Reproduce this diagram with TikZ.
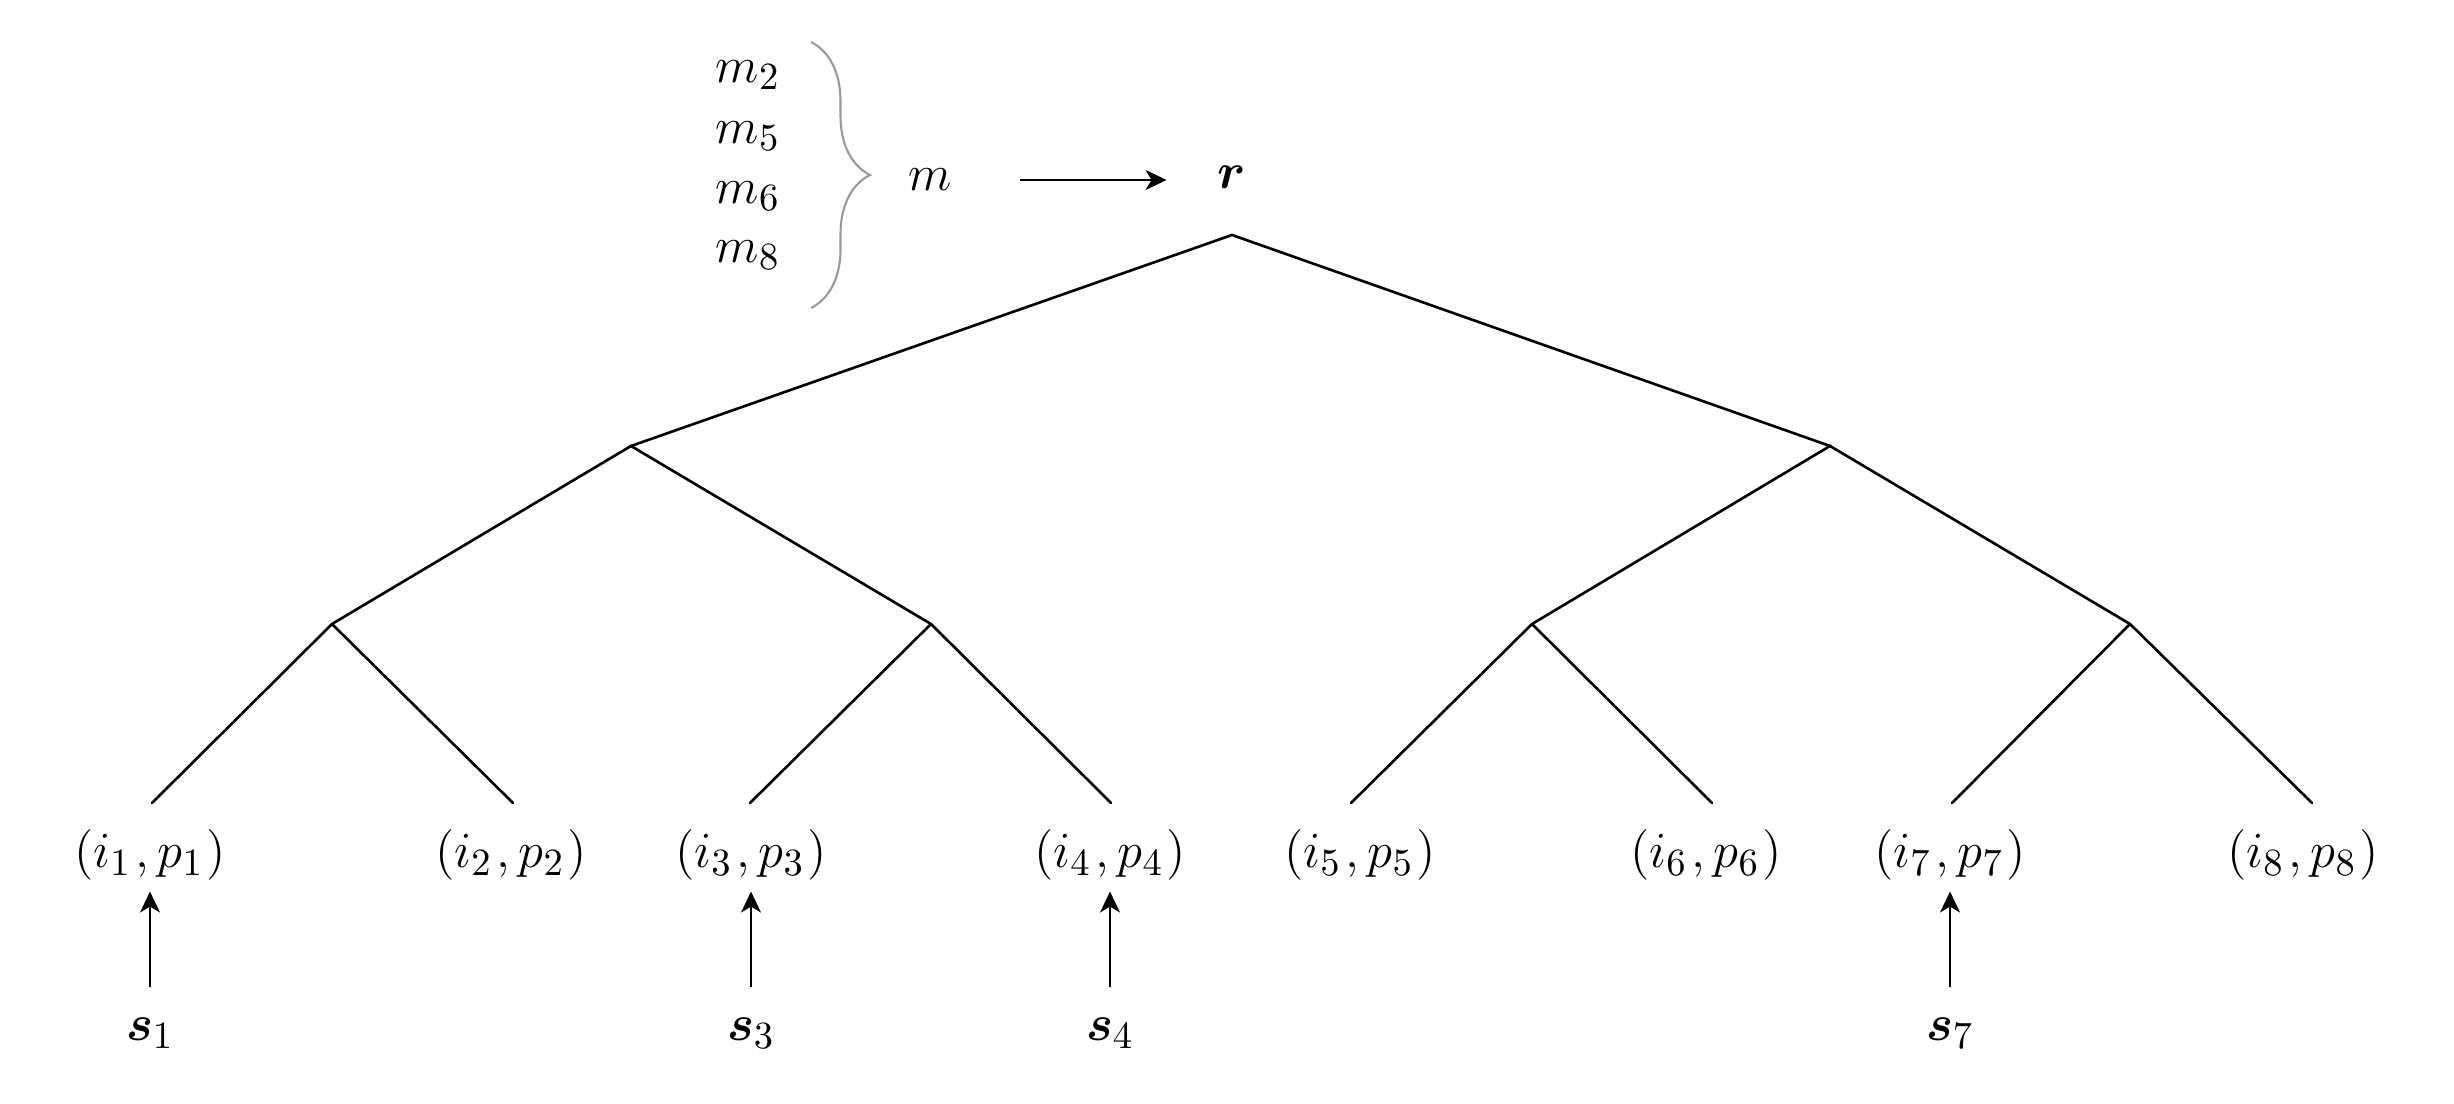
\documentclass[tikz,border=0pt]{standalone}
\usepackage{amsmath}
\usetikzlibrary{arrows.meta,decorations.pathreplacing}
\begin{document}
\begin{tikzpicture}[x=1cm,y=1cm,
  edge/.style={line width=0.75pt, line cap=round},
  leaf/.style={inner sep=3pt},
  src/.style={inner sep=3pt},
  up/.style={line width=0.45pt, -{Stealth[length=2.1mm,width=2mm,inset=0.6mm]}},
  bracecol/.style={draw=black!40, line width=0.6pt, decorate, decoration={brace, amplitude=0.59cm}}]
\fontsize{15}{18}\selectfont
\newcommand{\lf}[1]{$(i_{#1}\mkern1.5mu,p_{#1}\mkern1mu)$}
\useasboundingbox (0,0) rectangle (24.54,-11.04);
% tree vertices
\coordinate (root) at (12.32,-2.35);
\coordinate (a) at (6.31,-4.46);
\coordinate (b) at (18.30,-4.46);
\coordinate (aa) at (3.32,-6.24);
\coordinate (ab) at (9.31,-6.24);
\coordinate (ba) at (15.32,-6.24);
\coordinate (bb) at (21.30,-6.24);
% leaves
\node[leaf] (l1) at (1.50,-8.55) {\lf{1}};
\node[leaf] (l2) at (5.11,-8.55) {\lf{2}};
\node[leaf] (l3) at (7.51,-8.55) {\lf{3}};
\node[leaf] (l4) at (11.10,-8.55) {\lf{4}};
\node[leaf] (l5) at (13.60,-8.55) {\lf{5}};
\node[leaf] (l6) at (17.06,-8.55) {\lf{6}};
\node[leaf] (l7) at (19.50,-8.55) {\lf{7}};
\node[leaf] (l8) at (23.03,-8.55) {\lf{8}};
% sources
\node[src] (s1) at (1.50,-10.33) {$\boldsymbol{s}_1$};
\node[src] (s3) at (7.51,-10.33) {$\boldsymbol{s}_3$};
\node[src] (s4) at (11.10,-10.33) {$\boldsymbol{s}_4$};
\node[src] (s7) at (19.50,-10.33) {$\boldsymbol{s}_7$};
% top
\node (r) at (12.32,-1.77) {$\boldsymbol{r}$};
\node (m) at (9.30,-1.80) {$m$};
\node (m2) at (7.48,-0.75) {$m_2$};
\node (m5) at (7.48,-1.36) {$m_5$};
\node (m6) at (7.48,-1.96) {$m_6$};
\node (m8) at (7.48,-2.55) {$m_8$};
\coordinate (bt) at (8.11,-0.42);
\coordinate (bbm) at (8.11,-3.08);
\draw[bracecol] (bt) -- (bbm);
\draw[up, shorten <=0.5cm, shorten >=0.33cm] (m.east) -- (m.east -| r.west);
% edges
\draw[edge] (a) -- (root) -- (b);
\draw[edge] (aa) -- (a) -- (ab);
\draw[edge] (ba) -- (b) -- (bb);
\foreach \p/\l/\dx in {aa/l1/0.02, aa/l2/0.02, ab/l3/-0.01, ab/l4/0.01, ba/l5/-0.09, ba/l6/0.06, bb/l7/0.02, bb/l8/0.09}
  \draw[edge] (\p) -- ([xshift=\dx cm]\l.center |- 0,-8.03);
\foreach \s/\l in {s1/l1, s3/l3, s4/l4, s7/l7}
  \draw[up, shorten <=0.2cm] (\s.north) -- (\l.south);
\end{tikzpicture}
\end{document}
